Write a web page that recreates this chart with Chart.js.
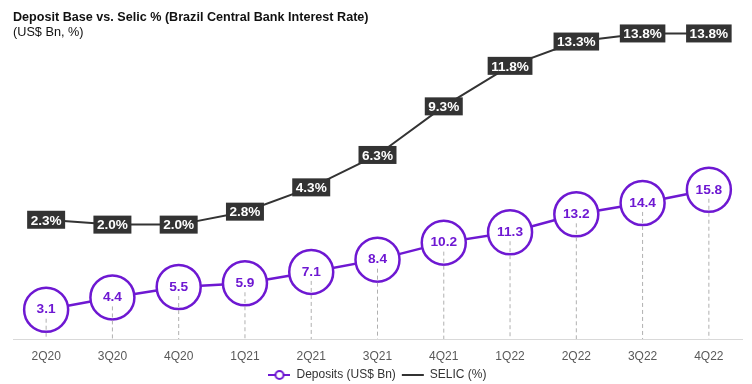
<!DOCTYPE html>
<html>
<head>
<meta charset="utf-8">
<script src="https://cdn.jsdelivr.net/npm/chart.js@4.4.1/dist/chart.umd.min.js"></script>
<style>
  html, body { margin: 0; padding: 0; background: #fff; }
  #wrap { width: 752px; height: 384px; }
</style>
</head>
<body>
<div id="wrap"><canvas id="chart"></canvas></div>
<script>
const quarters = ["2Q20", "3Q20", "4Q20", "1Q21", "2Q21", "3Q21", "4Q21", "1Q22", "2Q22", "3Q22", "4Q22"];
const deposits = [3.1, 4.4, 5.5, 5.9, 7.1, 8.4, 10.2, 11.3, 13.2, 14.4, 15.8];
const selic = [2.3, 2.0, 2.0, 2.8, 4.3, 6.3, 9.3, 11.8, 13.3, 13.8, 13.8];

const purple = '#6e18d2';
const dark = '#333333';
const font = '"Liberation Sans", Arial, sans-serif';

// legend icon: line with a hollow circle
function depositIcon() {
  const c = document.createElement('canvas');
  c.width = 22; c.height = 12;
  const g = c.getContext('2d');
  g.strokeStyle = purple;
  g.lineWidth = 2;
  g.beginPath(); g.moveTo(0, 6); g.lineTo(22, 6); g.stroke();
  g.fillStyle = '#fff';
  g.beginPath(); g.arc(11, 6, 4, 0, Math.PI * 2); g.fill(); g.stroke();
  return c;
}

const labelPlugin = {
  id: 'labels',
  afterDatasetsDraw(chart) {
    const ctx = chart.ctx;
    const bottom = chart.chartArea.bottom;

    // drop lines + deposit values
    const dep = chart.getDatasetMeta(0);
    ctx.save();
    dep.data.forEach((pt, i) => {
      ctx.strokeStyle = '#b0b0b0';
      ctx.lineWidth = 1;
      ctx.setLineDash([4, 3]);
      ctx.beginPath();
      ctx.moveTo(pt.x, pt.y + 9);
      ctx.lineTo(pt.x, bottom);
      ctx.stroke();
      ctx.setLineDash([]);
      ctx.fillStyle = purple;
      ctx.font = 'bold 13.7px ' + font;
      ctx.textAlign = 'center';
      ctx.textBaseline = 'middle';
      ctx.fillText(deposits[i].toFixed(1), pt.x, pt.y);
    });

    // selic boxes
    const sel = chart.getDatasetMeta(1);
    sel.data.forEach((pt, i) => {
      const txt = selic[i].toFixed(1) + '%';
      ctx.font = 'bold 13.6px ' + font;
      const w = ctx.measureText(txt).width + 7;
      const h = 18;
      ctx.fillStyle = dark;
      ctx.fillRect(pt.x - w / 2, pt.y - h / 2, w, h);
      ctx.fillStyle = '#fff';
      ctx.textAlign = 'center';
      ctx.textBaseline = 'middle';
      ctx.fillText(txt, pt.x, pt.y + 1);
    });
    ctx.restore();
  }
};

new Chart(document.getElementById('chart'), {
  type: 'line',
  data: {
    labels: quarters,
    datasets: [
      {
        label: 'Deposits (US$ Bn)',
        data: deposits,
        yAxisID: 'y',
        borderColor: purple,
        borderWidth: 2.5,
        pointStyle: 'circle',
        pointRadius: 22,
        pointHoverRadius: 22,
        pointBackgroundColor: '#fff',
        pointBorderColor: purple,
        pointBorderWidth: 2.5,
        clip: false
      },
      {
        label: 'SELIC (%)',
        data: selic,
        yAxisID: 'y2',
        borderColor: dark,
        borderWidth: 2,
        pointRadius: 0,
        clip: false
      }
    ]
  },
  options: {
    responsive: true,
    maintainAspectRatio: false,
    animation: false,
    layout: { autoPadding: false, padding: { left: 13, right: 10, top: 0, bottom: -7 } },
    plugins: {
      title: {
        display: true,
        text: 'Deposit Base vs. Selic % (Brazil Central Bank Interest Rate)',
        align: 'start',
        color: '#111',
        font: { family: font, size: 12.6, weight: 'bold' },
        padding: { top: 10, bottom: 0 }
      },
      subtitle: {
        display: true,
        text: '(US$ Bn, %)',
        align: 'start',
        color: '#111',
        font: { family: font, size: 12.7 },
        padding: { top: 0, bottom: 2 }
      },
      legend: {
        position: 'bottom',
        labels: {
          usePointStyle: true,
          pointStyleWidth: 22,
          color: '#333',
          font: { family: font, size: 12 },
          padding: 6,
          generateLabels(chart) {
            return [
              { text: 'Deposits (US$ Bn)', pointStyle: depositIcon(), fillStyle: purple, strokeStyle: purple, lineWidth: 2, datasetIndex: 0, fontColor: '#333' },
              { text: 'SELIC (%)', pointStyle: 'line', fillStyle: dark, strokeStyle: dark, lineWidth: 2, datasetIndex: 1, fontColor: '#333' }
            ];
          }
        }
      },
      tooltip: { enabled: false }
    },
    scales: {
      x: {
        offset: true,
        grid: { display: false, tickLength: 5 },
        border: { color: '#d9d9d9', width: 1 },
        ticks: { color: '#595959', font: { family: font, size: 12 }, padding: 5 },
        afterFit(scale) { scale.height = 24; }
      },
      y: { display: false, min: 0, max: 31.4 },
      y2: { display: false, min: -5.06, max: 13.25 }
    }
  },
  plugins: [labelPlugin]
});
</script>
</body>
</html>
